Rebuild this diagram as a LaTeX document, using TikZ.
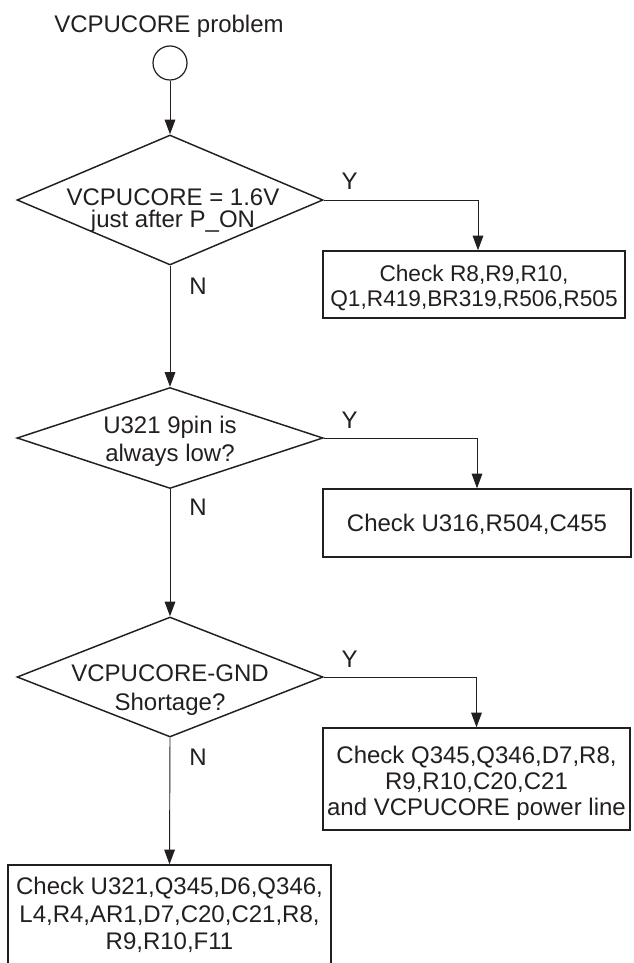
\documentclass[tikz,border=0pt]{standalone}
\usepackage{fontspec}
\setmainfont{Liberation Sans}
\usetikzlibrary{shapes.geometric,arrows.meta,calc}
\definecolor{ink}{HTML}{231F20}
\newcommand\mystack[1]{\vtop{\let\\\cr\halign{\hfil##\hfil\cr#1\crcr}}}
\begin{document}
\begin{tikzpicture}[x=0.75pt,y=-0.75pt,
  every node/.style={text=ink, font=\fontsize{18}{21}\selectfont},
  dia/.style={draw=ink, line width=1.1pt, shape=diamond, inner sep=0pt, minimum width=229.5pt},
  rbox/.style={draw=ink, line width=1.1pt, rectangle, inner sep=0pt},
  arr/.style={draw=ink, line width=0.7pt, -{Triangle[length=11pt,width=8pt]}},
  lab/.style={anchor=base, inner sep=0pt}]
\path[fill=white, use as bounding box] (0,0) rectangle (633,963);

\node[circle, draw=ink, line width=0.9pt, minimum size=25.5pt, inner sep=0pt] (c0) at (170,63) {};
\node[lab] (title) at ($(c0.north)+(-1,-13)$) {VCPUCORE problem};

\node[dia, minimum height=97.5pt, shape aspect=2.35, font=\fontsize{18}{16.5}\selectfont,
      text height=11.75pt, text depth=4.25pt] (d1) at (170,200)
      {\kern4.5pt\mystack{VCPUCORE = 1.6V\\just after P\_ON}};
\node[dia, minimum height=75.75pt, shape aspect=3.03, font=\fontsize{18}{21.25}\selectfont,
      text height=4.5pt, text depth=11.5pt] (d2) at (170,438)
      {\mystack{U321 9pin is\\always low?}};
\node[dia, minimum height=90pt, shape aspect=2.55, font=\fontsize{18}{21.25}\selectfont,
      text height=11.5pt, text depth=4.5pt] (d3) at (170,677)
      {\mystack{VCPUCORE-GND\\Shortage?}};

\node[rbox, minimum width=226.5pt, minimum height=50.25pt, font=\fontsize{17}{18.75}\selectfont,
      text height=5.8pt, text depth=10.2pt] (b1) at (474,284.5)
      {\mystack{Check R8,R9,R10,\\Q1,R419,BR319,R506,R505}};
\node[rbox, minimum width=231pt, minimum height=51pt,
      text height=14.45pt, text depth=1.55pt] (b2) at (477,523)
      {Check U316,R504,C455};
\node[rbox, minimum width=230.25pt, minimum height=76.5pt, font=\fontsize{18}{19.4}\selectfont,
      text height=8.2pt, text depth=31.8pt] (b3) at (476.5,779)
      {\mystack{Check Q345,Q346,D7,R8,\\R9,R10,C20,C21\\and VCPUCORE power line}};
\node[rbox, minimum width=242.25pt, minimum height=78.75pt, font=\fontsize{18}{20.6}\selectfont,
      text height=3.1pt, text depth=36.9pt] (b4) at (169.5,917.5)
      {\mystack{Check U321,Q345,D6,Q346,\\L4,R4,AR1,D7,C20,C21,R8,\\R9,R10,F11}};

\draw[arr] (c0.south) -- (d1.north);
\draw[arr] (d1.east) -| ([xshift=3pt]b1.north);
\draw[arr] (d1.south) -- (d2.north);
\draw[arr] (d2.east) -| (b2.north);
\draw[arr] (d2.south) -- (d3.north);
\draw[arr] (d3.east) -| (b3.north);
\draw[arr] (d3.south) -- (b4.north);

\node[lab] (y1) at ($(d1.east)+(26,-10)$) {Y};
\node[lab] (y2) at ($(d2.east)+(26,-10)$) {Y};
\node[lab] (y3) at ($(d3.east)+(26,-10)$) {Y};
\node[lab] (n1) at ($(d1.south)+(28,29)$) {N};
\node[lab] (n2) at ($(d2.south)+(28,26)$) {N};
\node[lab] (n3) at ($(d3.south)+(28,28)$) {N};
\end{tikzpicture}
\end{document}
